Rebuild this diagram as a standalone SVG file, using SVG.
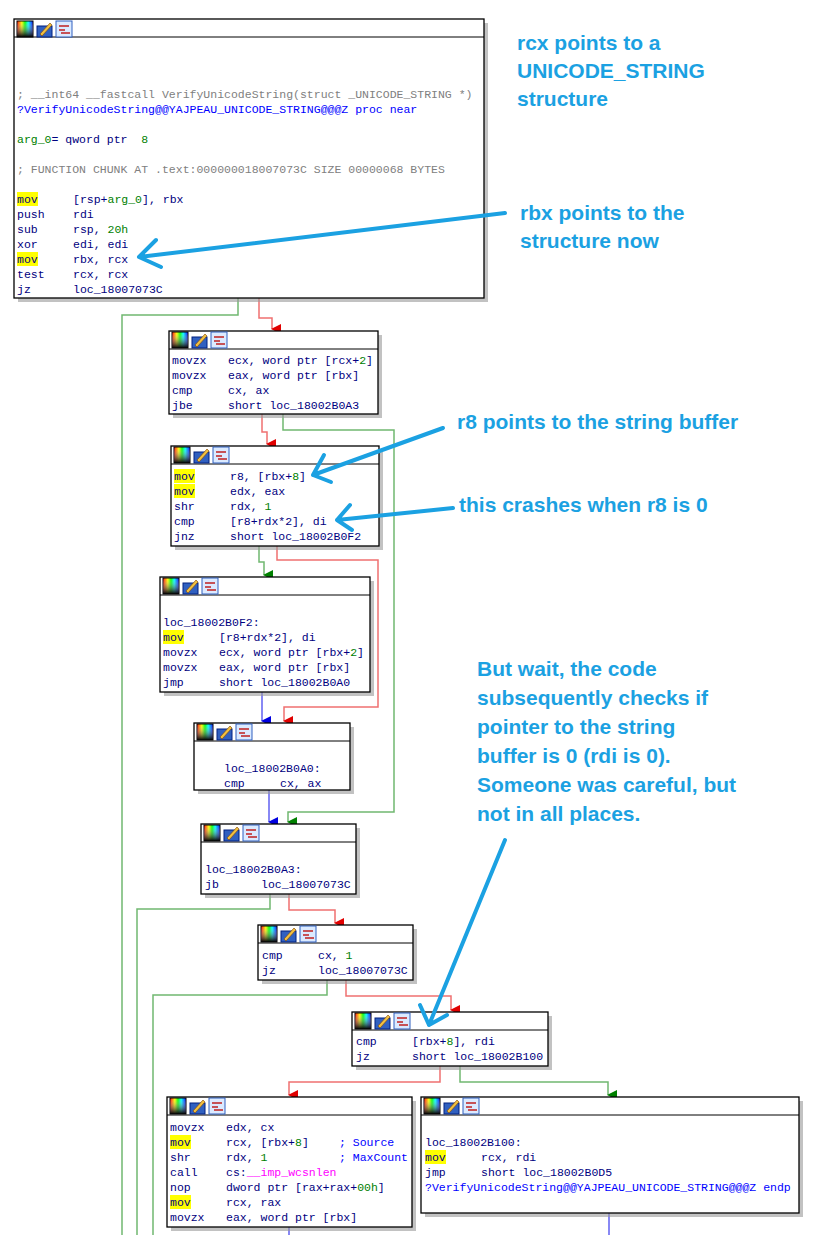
<svg xmlns="http://www.w3.org/2000/svg" width="817" height="1235" viewBox="0 0 817 1235">
<style>
.box{fill:#fff;stroke:#000;stroke-width:1.3}
.sh{fill:#999;opacity:.6}
.t{font-family:"Liberation Mono","DejaVu Sans Mono",monospace;font-size:11.5px;fill:#000080;white-space:pre}
.c{fill:#808080}.n{fill:#008000}.b{fill:#0000ff}.m{fill:#ff00ff}
.hl{fill:#ffff00}
.ann{font-family:"Liberation Sans",Arial,sans-serif;font-weight:bold;font-size:21px;fill:#1ba1e2}
.r{stroke:#f07070;fill:none;stroke-width:1.5}
.g{stroke:#70b870;fill:none;stroke-width:1.5}
.bl{stroke:#6060f0;fill:none;stroke-width:1.5}
.aa{stroke:#1ba1e2;fill:none;stroke-width:4;stroke-linecap:round;stroke-linejoin:round}
</style>
<defs>
<marker id="mr" markerWidth="10" markerHeight="10" refX="5" refY="9" orient="auto" markerUnits="userSpaceOnUse" viewBox="0 0 10 10"><path d="M0,0 L10,0 L5,10Z" fill="#e00000"/></marker>
<marker id="mg" markerWidth="10" markerHeight="10" refX="5" refY="9" orient="auto" markerUnits="userSpaceOnUse" viewBox="0 0 10 10"><path d="M0,0 L10,0 L5,10Z" fill="#008000"/></marker>
<marker id="mb" markerWidth="10" markerHeight="10" refX="5" refY="9" orient="auto" markerUnits="userSpaceOnUse" viewBox="0 0 10 10"><path d="M0,0 L10,0 L5,10Z" fill="#0000e0"/></marker>
<linearGradient id="rb" x1="0" y1="0" x2="1" y2="0"><stop offset="0" stop-color="#f00"/><stop offset=".3" stop-color="#ff0"/><stop offset=".5" stop-color="#0f0"/><stop offset=".7" stop-color="#0ff"/><stop offset="1" stop-color="#00f"/></linearGradient>
<linearGradient id="dk" x1="0" y1="0" x2="0" y2="1"><stop offset="0" stop-color="#fff" stop-opacity="0"/><stop offset="1" stop-color="#000"/></linearGradient>
<g id="ic">
<rect x="0" y="0" width="16" height="16" fill="url(#rb)" stroke="#000"/><rect x="0" y="0" width="16" height="16" fill="url(#dk)"/>
<rect x="20" y="5" width="15" height="11" fill="#3060c0" stroke="#002080"/><path d="M23,13 L33,2 L35,4 L25,15Z" fill="#f0c040" stroke="#804000" stroke-width=".6"/>
<rect x="39" y="0" width="16" height="16" fill="#dbeaff" stroke="#3060c0"/><path d="M42,5 H52 M42,9 H48 M44,12 H53" stroke="#c02020" stroke-width="1.5"/>
</g>
</defs>
<rect width="817" height="1235" fill="#fff"/>

<g id="connectors">
<path class="r" d="M259,298 V318 H272 V329" marker-end="url(#mr)"/>
<path class="g" d="M238,298 V315 H122 V1235"/>
<path class="r" d="M262,414 V432 H267 V444" marker-end="url(#mr)"/>
<path class="g" d="M283,414 V430 H394 V812 H288 V822" marker-end="url(#mg)"/>
<path class="g" d="M259,546 V562 H264 V575" marker-end="url(#mg)"/>
<path class="r" d="M277,546 V560 H378 V707 H284 V721" marker-end="url(#mr)"/>
<path class="bl" d="M262,692 V721" marker-end="url(#mb)"/>
<path class="bl" d="M269,790 V822" marker-end="url(#mb)"/>
<path class="g" d="M270,894 V909 H137 V1235"/>
<path class="r" d="M289,894 V910 H335 V923" marker-end="url(#mr)"/>
<path class="g" d="M327,980 V995 H153 V1235"/>
<path class="r" d="M346,980 V996 H451 V1010" marker-end="url(#mr)"/>
<path class="r" d="M440,1066 V1082 H289 V1095" marker-end="url(#mr)"/>
<path class="g" d="M460,1066 V1082 H608 V1095" marker-end="url(#mg)"/>
<path class="bl" d="M289,1227 V1235"/>
<path class="bl" d="M609,1213 V1235"/>
</g>

<g id="n1">
<rect class="sh" x="18" y="23" width="470" height="279"/>
<rect class="box" x="14" y="19" width="470" height="279"/><line x1="14" y1="37" x2="484" y2="37" stroke="#000"/>
<use href="#ic" x="17" y="21"/>
<text class="t c" x="17" y="98">; __int64 __fastcall VerifyUnicodeString(struct _UNICODE_STRING *)</text>
<text class="t b" x="17" y="113">?VerifyUnicodeString@@YAJPEAU_UNICODE_STRING@@@Z proc near</text>
<text class="t" x="17" y="143"><tspan class="n">arg_0</tspan>= qword ptr  <tspan class="n">8</tspan></text>
<text class="t c" x="17" y="173">; FUNCTION CHUNK AT .text:000000018007073C SIZE 00000068 BYTES</text>
<rect class="hl" x="17" y="192" width="21" height="14"/><rect class="hl" x="17" y="252" width="21" height="14"/>
<text class="t" x="17" y="203">mov</text><text class="t" x="73" y="203">[rsp+<tspan class="n">arg_0</tspan>], rbx</text>
<text class="t" x="17" y="218">push</text><text class="t" x="73" y="218">rdi</text>
<text class="t" x="17" y="233">sub</text><text class="t" x="73" y="233">rsp, <tspan class="n">20h</tspan></text>
<text class="t" x="17" y="248">xor</text><text class="t" x="73" y="248">edi, edi</text>
<text class="t" x="17" y="263">mov</text><text class="t" x="73" y="263">rbx, rcx</text>
<text class="t" x="17" y="278">test</text><text class="t" x="73" y="278">rcx, rcx</text>
<text class="t" x="17" y="293">jz</text><text class="t" x="73" y="293">loc_18007073C</text>
</g>

<g id="n2">
<rect class="sh" x="173" y="335" width="209" height="83"/>
<rect class="box" x="169" y="331" width="209" height="83"/><line x1="169" y1="349" x2="378" y2="349" stroke="#000"/>
<use href="#ic" x="172" y="332"/>
<text class="t" x="172" y="364">movzx</text><text class="t" x="228" y="364">ecx, word ptr [rcx+<tspan class="n">2</tspan>]</text>
<text class="t" x="172" y="379">movzx</text><text class="t" x="228" y="379">eax, word ptr [rbx]</text>
<text class="t" x="172" y="394">cmp</text><text class="t" x="228" y="394">cx, ax</text>
<text class="t" x="172" y="409">jbe</text><text class="t" x="228" y="409">short loc_18002B0A3</text>
</g>

<g id="n3">
<rect class="sh" x="175" y="450" width="208" height="100"/>
<rect class="box" x="171" y="446" width="208" height="100"/><line x1="171" y1="464" x2="379" y2="464" stroke="#000"/>
<use href="#ic" x="174" y="447"/>
<rect class="hl" x="174" y="469" width="21" height="14"/><rect class="hl" x="174" y="484" width="21" height="14"/>
<text class="t" x="174" y="480">mov</text><text class="t" x="230" y="480">r8, [rbx+<tspan class="n">8</tspan>]</text>
<text class="t" x="174" y="495">mov</text><text class="t" x="230" y="495">edx, eax</text>
<text class="t" x="174" y="510">shr</text><text class="t" x="230" y="510">rdx, <tspan class="n">1</tspan></text>
<text class="t" x="174" y="525">cmp</text><text class="t" x="230" y="525">[r8+rdx*2], di</text>
<text class="t" x="174" y="540">jnz</text><text class="t" x="230" y="540">short loc_18002B0F2</text>
</g>

<g id="n4">
<rect class="sh" x="164" y="581" width="210" height="115"/>
<rect class="box" x="160" y="577" width="210" height="115"/><line x1="160" y1="595" x2="370" y2="595" stroke="#000"/>
<use href="#ic" x="163" y="578"/>
<text class="t" x="163" y="626">loc_18002B0F2:</text>
<rect class="hl" x="163" y="630" width="21" height="14"/>
<text class="t" x="163" y="641">mov</text><text class="t" x="219" y="641">[r8+rdx*2], di</text>
<text class="t" x="163" y="656">movzx</text><text class="t" x="219" y="656">ecx, word ptr [rbx+<tspan class="n">2</tspan>]</text>
<text class="t" x="163" y="671">movzx</text><text class="t" x="219" y="671">eax, word ptr [rbx]</text>
<text class="t" x="163" y="686">jmp</text><text class="t" x="219" y="686">short loc_18002B0A0</text>
</g>

<g id="n5">
<rect class="sh" x="198" y="727" width="156" height="67"/>
<rect class="box" x="194" y="723" width="156" height="67"/><line x1="194" y1="741" x2="350" y2="741" stroke="#000"/>
<use href="#ic" x="197" y="724"/>
<text class="t" x="224" y="772">loc_18002B0A0:</text>
<text class="t" x="224" y="787">cmp</text><text class="t" x="280" y="787">cx, ax</text>
</g>

<g id="n6">
<rect class="sh" x="205" y="828" width="155" height="70"/>
<rect class="box" x="201" y="824" width="155" height="70"/><line x1="201" y1="842" x2="356" y2="842" stroke="#000"/>
<use href="#ic" x="204" y="825"/>
<text class="t" x="205" y="873">loc_18002B0A3:</text>
<text class="t" x="205" y="888">jb</text><text class="t" x="261" y="888">loc_18007073C</text>
</g>

<g id="n7">
<rect class="sh" x="262" y="929" width="155" height="55"/>
<rect class="box" x="258" y="925" width="155" height="55"/><line x1="258" y1="943" x2="413" y2="943" stroke="#000"/>
<use href="#ic" x="261" y="926"/>
<text class="t" x="262" y="959">cmp</text><text class="t" x="318" y="959">cx, <tspan class="n">1</tspan></text>
<text class="t" x="262" y="974">jz</text><text class="t" x="318" y="974">loc_18007073C</text>
</g>

<g id="n8">
<rect class="sh" x="356" y="1016" width="196" height="54"/>
<rect class="box" x="352" y="1012" width="196" height="54"/><line x1="352" y1="1030" x2="548" y2="1030" stroke="#000"/>
<use href="#ic" x="355" y="1013"/>
<text class="t" x="356" y="1045">cmp</text><text class="t" x="412" y="1045">[rbx+<tspan class="n">8</tspan>], rdi</text>
<text class="t" x="356" y="1060">jz</text><text class="t" x="412" y="1060">short loc_18002B100</text>
</g>

<g id="n9">
<rect class="sh" x="171" y="1101" width="245" height="130"/>
<rect class="box" x="167" y="1097" width="245" height="130"/><line x1="167" y1="1115" x2="412" y2="1115" stroke="#000"/>
<use href="#ic" x="170" y="1098"/>
<rect class="hl" x="170" y="1135" width="21" height="14"/><rect class="hl" x="170" y="1195" width="21" height="14"/>
<text class="t" x="170" y="1131">movzx</text><text class="t" x="226" y="1131">edx, cx</text>
<text class="t" x="170" y="1146">mov</text><text class="t" x="226" y="1146">rcx, [rbx+<tspan class="n">8</tspan>]</text><text class="t b" x="339" y="1146">; Source</text>
<text class="t" x="170" y="1161">shr</text><text class="t" x="226" y="1161">rdx, <tspan class="n">1</tspan></text><text class="t b" x="339" y="1161">; MaxCount</text>
<text class="t" x="170" y="1176">call</text><text class="t" x="226" y="1176">cs:<tspan class="m">__imp_wcsnlen</tspan></text>
<text class="t" x="170" y="1191">nop</text><text class="t" x="226" y="1191">dword ptr [rax+rax+<tspan class="n">00h</tspan>]</text>
<text class="t" x="170" y="1206">mov</text><text class="t" x="226" y="1206">rcx, rax</text>
<text class="t" x="170" y="1221">movzx</text><text class="t" x="226" y="1221">eax, word ptr [rbx]</text>
</g>

<g id="n10">
<rect class="sh" x="425" y="1101" width="378" height="116"/>
<rect class="box" x="421" y="1097" width="378" height="116"/><line x1="421" y1="1115" x2="799" y2="1115" stroke="#000"/>
<use href="#ic" x="424" y="1098"/>
<text class="t" x="425" y="1146">loc_18002B100:</text>
<rect class="hl" x="425" y="1150" width="21" height="14"/>
<text class="t" x="425" y="1161">mov</text><text class="t" x="481" y="1161">rcx, rdi</text>
<text class="t" x="425" y="1176">jmp</text><text class="t" x="481" y="1176">short loc_18002B0D5</text>
<text class="t b" x="425" y="1191">?VerifyUnicodeString@@YAJPEAU_UNICODE_STRING@@@Z endp</text>
</g>

<g id="annotations">
<text class="ann" x="517" y="50">rcx points to a</text>
<text class="ann" x="517" y="78">UNICODE_STRING</text>
<text class="ann" x="517" y="106">structure</text>
<text class="ann" x="520" y="220">rbx points to the</text>
<text class="ann" x="520" y="248">structure now</text>
<text class="ann" x="457" y="429">r8 points to the string buffer</text>
<text class="ann" x="459" y="512">this crashes when r8 is 0</text>
<text class="ann" x="477" y="676">But wait, the code</text>
<text class="ann" x="477" y="705">subsequently checks if</text>
<text class="ann" x="477" y="734">pointer to the string</text>
<text class="ann" x="477" y="763">buffer is 0 (rdi is 0).</text>
<text class="ann" x="477" y="792">Someone was careful, but</text>
<text class="ann" x="477" y="821">not in all places.</text>
<path class="aa" d="M505,213 L139,257 M156,240 L139,257 L161,267"/>
<path class="aa" d="M443,428 L313,475 M324,455 L313,475 L331,482"/>
<path class="aa" d="M453,508 L337,520 M350,505 L337,520 L352,530"/>
<path class="aa" d="M505,840 L429,1025 M420,1005 L429,1025 L447,1015"/>
</g>
</svg>
